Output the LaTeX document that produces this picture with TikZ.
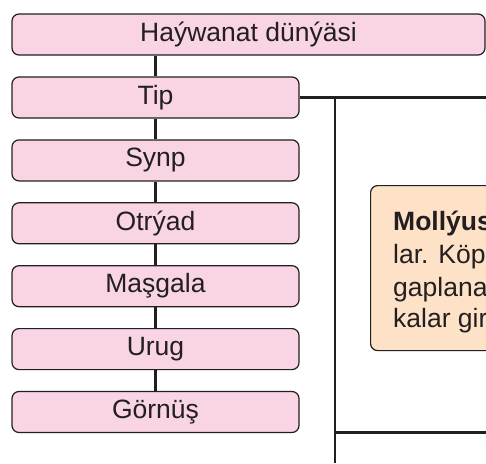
\documentclass[tikz,border=0pt]{standalone}
\usepackage{fontspec}
\setmainfont{Liberation Sans}
\definecolor{pinkfill}{HTML}{F9D4E4}
\definecolor{orangefill}{HTML}{FDE2C8}
\definecolor{ink}{HTML}{231F20}
\begin{document}
\begin{tikzpicture}[x=1pt,y=-1pt,
  rankbox/.style={draw=ink, line width=1.2pt, fill=pinkfill, rounded corners=7pt,
    minimum width=287pt, minimum height=41pt, inner sep=0pt,
    font=\fontsize{26.5}{30}\selectfont, text=ink},
  notebox/.style={draw=ink, line width=1.2pt, fill=orangefill, rounded corners=7pt,
    minimum width=300pt, minimum height=165pt, inner sep=0pt, anchor=north west},
  noteline/.style={anchor=base west, inner sep=0pt, font=\fontsize{26.5}{30}\selectfont, text=ink},
  link/.style={draw=ink, line width=2.3pt}]
\useasboundingbox (0,0) rectangle (486,463);
\clip (0,0) rectangle (486,463);
\fill[white] (0,0) rectangle (486,463);

% trunk and branches on the right
\coordinate (trunktop) at (335,97.5);
\coordinate (trunkbot) at (335,463);
\coordinate (tipend) at (486,97.5);
\coordinate (branch) at (335,432.5);
\coordinate (branchend) at (486,432.5);

\node[rankbox, minimum width=473pt] (world) at (248.5,34.5) {Haýwanat dünýäsi};
\node[rankbox] (tip) at (155.5,97.5) {Tip};
\node[rankbox] (synp) at (155.5,160.4) {Synp};
\node[rankbox] (otryad) at (155.5,223.3) {Otrýad};
\node[rankbox] (masgala) at (155.5,286.2) {Maşgala};
\node[rankbox] (urug) at (155.5,349.1) {Urug};
\node[rankbox] (gornus) at (155.5,412) {Görnüş};

\draw[link] (world.south -| tip.north) -- (tip.north);
\draw[link] (tip) -- (synp);
\draw[link] (synp) -- (otryad);
\draw[link] (otryad) -- (masgala);
\draw[link] (masgala) -- (urug);
\draw[link] (urug) -- (gornus);

\draw[link] (tip.east) -- (tipend);
\draw[link] (trunktop) -- (trunkbot);
\draw[link] (branch) -- (branchend);

\node[notebox] (note) at (370,185) {};
\node[noteline] (l1) at (393,230) {\textbf{Mollýus}};
\node[noteline] (l2) at (393,263.5) {lar. Köp};
\node[noteline] (l3) at (393,296.5) {gaplana};
\node[noteline] (l4) at (393,327) {kalar gir};
\end{tikzpicture}
\end{document}
